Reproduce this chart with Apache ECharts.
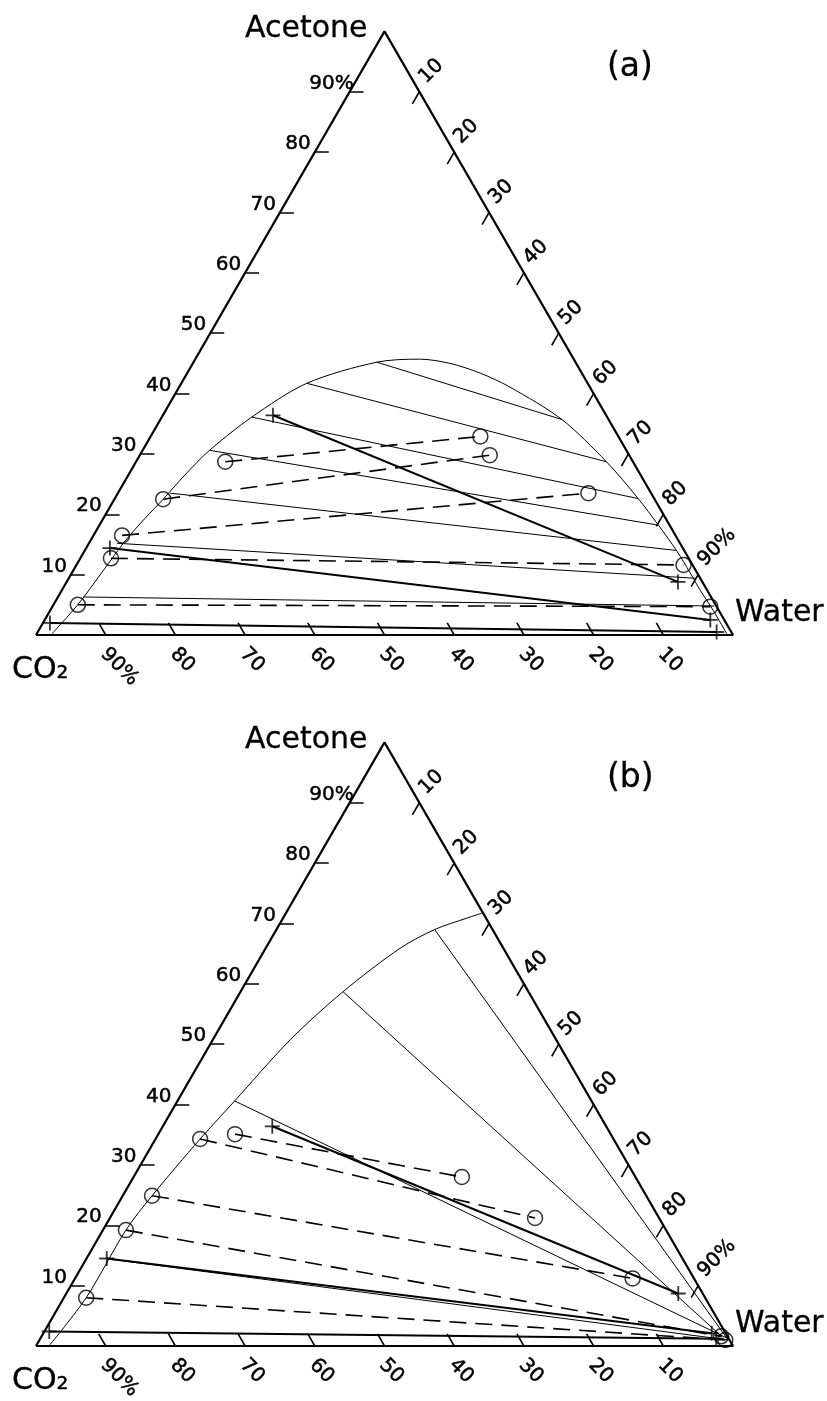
<!DOCTYPE html>
<html><head><meta charset="utf-8">
<script src="https://cdn.jsdelivr.net/npm/echarts@6/dist/echarts.min.js"></script>
<style>html,body{margin:0;padding:0;background:#fff}#c{width:827px;height:1401px}</style>
</head><body><div id="c"></div>
<script>
// ---------- DATA (ternary compositions given as [acetone %, water %]; CO2 = 100 - acetone - water) ----------
const tickValues = [10, 20, 30, 40, 50, 60, 70, 80, 90];
const acetoneTickLabels = ['10', '20', '30', '40', '50', '60', '70', '80', '90%'];
const waterTickLabels = ['10', '20', '30', '40', '50', '60', '70', '80', '90%'];
const co2TickLabels = ['10', '20', '30', '40', '50', '60', '70', '80', '90%'];
const vertexNames = ['Acetone', 'Water', 'CO₂'];
const panelLabels = ['(a)', '(b)'];

// panel (a)
const binodalA = [[0.2,2.2],[5.1,3.5],[10.6,4.3],[15.6,5.0],[19.4,6.0],[22.5,7.0],[26.5,8.1],[30.6,9.6],[36.1,12.9],[41.7,18.0],[45.2,26.3],[45.7,32.2],[45.0,36.9],[43.4,42.0],[41.1,47.4],[35.7,57.6],[28.7,67.5],[22.6,75.1],[18.2,80.2],[13.9,85.0],[10.3,88.7],[7.5,91.5],[4.1,95.1],[0.2,99.0]];
const tieLinesA = [
  [[45.2,26.3],[35.7,57.6]],
  [[41.7,18.0],[28.7,67.5]],
  [[36.1,12.9],[22.6,75.1]],
  [[30.6,9.6],[18.2,80.2]],
  [[23.5,7.5],[14.0,84.9]],
  [[15.2,4.0],[9.4,89.9]],
  [[6.3,3.6],[4.8,94.9]]
];
const dashedA = [
  [[28.7,12.8],[32.9,47.3]],
  [[22.5,7.0],[29.8,50.2]],
  [[16.5,4.1],[23.5,67.5]],
  [[12.7,4.4],[11.6,87.1]],
  [[5.0,3.5],[4.7,94.4]]
];
const feedA = [
  [[36.4,15.8],[8.8,87.7]],
  [[14.4,3.4],[2.5,95.5]],
  [[2.0,1.0],[0.5,97.4]]
];

// panel (b)
const binodalB = [[0.2,1.9],[8.0,3.2],[19.2,3.3],[24.9,4.2],[34.3,6.4],[40.6,8.2],[50.7,11.1],[58.7,14.7],[65.9,19.3],[69.0,22.7],[70.9,26.4],[71.7,28.1]];
const tieLinesB = [
  [[69.0,22.7],[1.0,98.8]],
  [[58.7,14.7],[1.5,97.7]],
  [[40.6,8.2],[1.3,98.5]],
  [[14.4,3.3],[1.0,98.8]]
];
const dashedB = [
  [[35.1,11.0],[28.0,47.1]],
  [[34.3,6.4],[21.2,61.0]],
  [[24.9,4.2],[11.2,80.0]],
  [[19.2,3.3],[1.6,97.5]],
  [[8.0,3.2],[1.0,98.4]]
];
const feedB = [
  [[36.4,15.7],[8.7,87.8]],
  [[14.5,2.9],[2.1,95.9]],
  [[2.4,0.7],[1.2,97.0]]
];

// ---------- BUILD ----------
const SQ = Math.sqrt(3) / 2;
function toXY(p) { return [p[1] + p[0] / 2, p[0] * SQ]; }
const FONT = 'DejaVu Sans';
const plusPath = 'path://M44,0h12v44h44v12h-44v44h-12v-44h-44v-12h44z';

const panels = [
  {top: 31.4, curve: binodalA, ties: tieLinesA, dashed: dashedA, feed: feedA, label: panelLabels[0]},
  {top: 742.4, curve: binodalB, ties: tieLinesB, dashed: dashedB, feed: feedB, label: panelLabels[1]}
];
const GL = 36, GW = 697, GH = 603.6;

const option = {
  animation: false,
  backgroundColor: '#fff',
  textStyle: {fontFamily: FONT},
  title: [], grid: [], xAxis: [], yAxis: [], series: []
};

const txt = {color: '#000', fontFamily: FONT, fontWeight: 'normal', opacity: 1,
  textBorderColor: '#000', textBorderWidth: 0.5, textShadowBlur: 0};

panels.forEach((P, i) => {
  option.grid.push({left: GL, top: P.top, width: GW, height: GH});
  option.xAxis.push({type: 'value', gridIndex: i, min: 0, max: 100, show: false});
  option.yAxis.push({type: 'value', gridIndex: i, min: 0, max: 100 * SQ, show: false});
  const ax = {xAxisIndex: i, yAxisIndex: i};
  option.title.push({text: P.label, left: 602, top: P.top + 15,
    textStyle: Object.assign({fontSize: 33}, txt, {textBorderWidth: 0.3})});

  // triangle edges
  option.series.push(Object.assign({type: 'line', symbol: 'none', silent: true,
    data: [[0,0],[0,100],[100,0],[0,0]].map(toXY),
    lineStyle: {color: '#000', width: 2.2}}, ax));

  // ticks
  const ticks = [];
  tickValues.forEach(v => {
    ticks.push({coords: [toXY([v, 0]), toXY([v, 2])]});              // acetone (left)
    ticks.push({coords: [toXY([100 - v, v]), toXY([98 - v, v])]});    // water (right)
    ticks.push({coords: [toXY([0, 100 - v]), toXY([2, 98 - v])]});    // CO2 (bottom)
  });
  option.series.push(Object.assign({type: 'lines', coordinateSystem: 'cartesian2d', silent: true,
    data: ticks, lineStyle: {color: '#000', width: 1.6, opacity: 1}}, ax));

  // binodal curve
  option.series.push(Object.assign({type: 'line', symbol: 'none', silent: true, smooth: 0.3,
    data: P.curve.map(toXY), lineStyle: {color: '#000', width: 1}}, ax));

  // tie lines (thin)
  option.series.push(Object.assign({type: 'lines', coordinateSystem: 'cartesian2d', silent: true,
    data: P.ties.map(t => ({coords: t.map(toXY)})),
    lineStyle: {color: '#000', width: 1, opacity: 1}}, ax));

  // dashed tie lines
  option.series.push(Object.assign({type: 'lines', coordinateSystem: 'cartesian2d', silent: true,
    data: P.dashed.map(t => ({coords: t.map(toXY)})),
    lineStyle: {color: '#000', width: 1.6, type: [17, 9], opacity: 1}}, ax));

  // thick lines
  option.series.push(Object.assign({type: 'lines', coordinateSystem: 'cartesian2d', silent: true,
    data: P.feed.map(t => ({coords: t.map(toXY)})),
    lineStyle: {color: '#000', width: 2, opacity: 1}}, ax));

  // circles
  option.series.push(Object.assign({type: 'scatter', silent: true, symbol: 'circle', symbolSize: 15,
    data: P.dashed.flat().map(toXY),
    itemStyle: {color: 'rgba(0,0,0,0)', borderColor: '#000', borderWidth: 1.5}}, ax));

  // plus markers
  option.series.push(Object.assign({type: 'scatter', silent: true, symbol: plusPath, symbolSize: 15,
    data: P.feed.flat().map(toXY),
    itemStyle: {color: '#000'}}, ax));

  // tick labels
  const lblBase = Object.assign({show: true, fontSize: 20, formatter: '{b}'}, txt);
  option.series.push(Object.assign({type: 'scatter', silent: true, symbolSize: 0,
    itemStyle: {color: '#000'},
    data: tickValues.map((v, k) => ({name: acetoneTickLabels[k], value: toXY([v, 0]),
      label: {position: acetoneTickLabels[k].endsWith('%') ? [4, 2] : [-4, 2]}})),
    label: Object.assign({align: 'right', verticalAlign: 'bottom'}, lblBase)}, ax));
  option.series.push(Object.assign({type: 'scatter', silent: true, symbolSize: 0,
    itemStyle: {color: '#000'},
    data: tickValues.map((v, k) => ({name: waterTickLabels[k], value: toXY([100 - v, v])})),
    label: Object.assign({align: 'left', verticalAlign: 'middle', rotate: 45, position: [3, -11.5]}, lblBase)}, ax));
  option.series.push(Object.assign({type: 'scatter', silent: true, symbolSize: 0,
    itemStyle: {color: '#000'},
    data: tickValues.map((v, k) => ({name: co2TickLabels[k], value: toXY([0, 100 - v])})),
    label: Object.assign({align: 'left', verticalAlign: 'middle', rotate: -45, position: [-2, 16]}, lblBase)}, ax));

  // vertex names
  const vb = Object.assign({show: true, fontSize: 30, formatter: '{b}'}, txt, {textBorderWidth: 0.3});
  option.series.push(Object.assign({type: 'scatter', silent: true, symbolSize: 0,
    itemStyle: {color: '#000'},
    data: [
      {name: vertexNames[0], value: toXY([100, 0]), label: Object.assign({position: [-17, -2], align: 'right', verticalAlign: 'middle'}, vb)},
      {name: vertexNames[1], value: toXY([0, 100]), label: Object.assign({position: [2, -22], align: 'left', verticalAlign: 'middle'}, vb)},
      {name: vertexNames[2], value: toXY([0, 0]), label: Object.assign({position: [-24, 35], align: 'left', verticalAlign: 'middle'}, vb)}
    ]}, ax));
});

const chart = echarts.init(document.getElementById('c'), null, {renderer: 'canvas'});
chart.setOption(option);
</script></body></html>
